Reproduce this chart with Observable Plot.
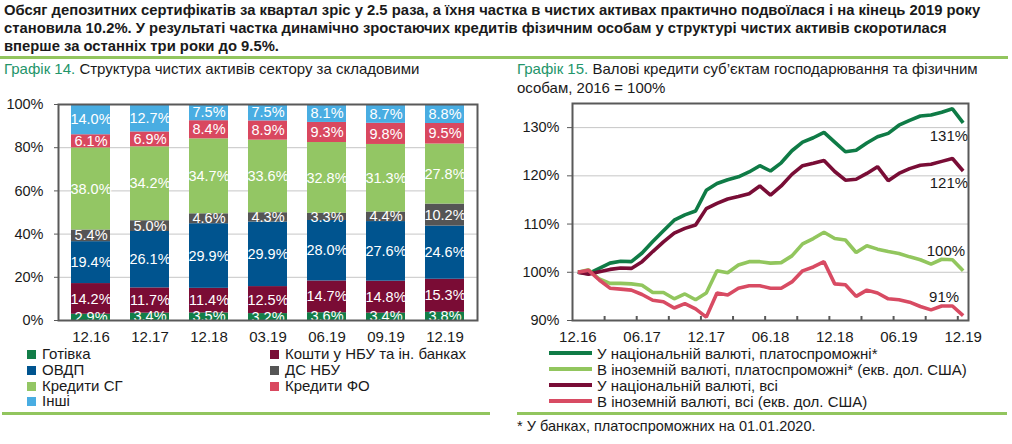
<!DOCTYPE html>
<html><head><meta charset="utf-8">
<script src="https://cdn.jsdelivr.net/npm/d3@7"></script>
<script src="https://cdn.jsdelivr.net/npm/@observablehq/plot@0.6"></script>
<style>
body{margin:0;width:1012px;height:444px;position:relative;font-family:"Liberation Sans",Arial,sans-serif;background:#fff;overflow:hidden;color:#1a1a1a}
.abs{position:absolute}
#header{left:4px;top:1px;font-weight:bold;font-size:14.8px;line-height:18px;width:1008px;white-space:nowrap}
.rule{position:absolute;height:3px;background:#92c55e}
.title{font-size:15px;line-height:19px;white-space:nowrap}
.title .g{color:#23956a}
.leg{font-size:15px;line-height:15.5px;white-space:nowrap}
.leg .it{position:absolute;white-space:nowrap}
.sq{display:inline-block;width:9px;height:9px;margin-right:6px;vertical-align:0px}
.ln{display:inline-block;width:43px;height:4px;margin-right:5px;vertical-align:4px}
#foot{left:517px;top:418px;font-size:14.5px;white-space:nowrap}
</style></head>
<body>
<div id="header" class="abs">Обсяг депозитних сертифікатів за квартал зріс у 2.5 раза, а їхня частка в чистих активах практично подвоїлася і на кінець 2019 року<br>становила 10.2%. У результаті частка динамічно зростаючих кредитів фізичним особам у структурі чистих активів скоротилася<br>вперше за останніх три роки до 9.5%.</div>
<div class="rule" style="left:0;top:56px;width:1008px"></div>
<div class="abs title" style="left:4px;top:59px"><span class="g">Графік 14.</span> Структура чистих активів сектору за складовими</div>
<div class="abs title" style="left:517px;top:59px"><span class="g">Графік 15.</span> Валові кредити суб’єктам господарювання та фізичним<br>особам, 2016 = 100%</div>
<div id="left" class="abs" style="left:0;top:95px"></div>
<div id="right" class="abs" style="left:500px;top:95px"></div>
<div id="legL" class="abs leg" style="left:0;top:346px;width:500px;height:64px"></div>
<div class="rule" style="left:2px;top:412px;width:488px"></div>
<div id="legR" class="abs leg" style="left:549px;top:346px;width:460px;height:64px"></div>
<div class="rule" style="left:517px;top:412px;width:490px"></div>
<div id="foot" class="abs">* У банках, платоспроможних на 01.01.2020.</div>
<script>
// ---- Chart 14 data ----
const barDates = ["12.16","12.17","12.18","03.19","06.19","09.19","12.19"];
const barSeries = ["Готівка","Кошти у НБУ та ін. банках","ОВДП","ДС НБУ","Кредити СГ","Кредити ФО","Інші"];
const barColors = ["#127d48","#7a0c35","#00548f","#555555","#93c664","#d9485f","#49ade2"];
const cash      = [2.9, 3.4, 3.5, 3.2, 3.6, 3.4, 3.8];
const nbuBanks  = [14.2, 11.7, 11.4, 12.5, 14.7, 14.8, 15.3];
const govBonds  = [19.4, 26.1, 29.9, 29.9, 28.0, 27.6, 24.6];
const nbuCerts  = [5.4, 5.0, 4.6, 4.3, 3.3, 4.4, 10.2];
const corpLoans = [38.0, 34.2, 34.7, 33.6, 32.8, 31.3, 27.8];
const retLoans  = [6.1, 6.9, 8.4, 8.9, 9.3, 9.8, 9.5];
const other     = [14.0, 12.7, 7.5, 7.5, 8.1, 8.7, 8.8];
const barTicks = [0, 20, 40, 60, 80, 100];

// ---- Chart 15 data ----
const lineTickLabels = ["12.16","06.17","12.17","06.18","12.18","06.19","12.19"];
const lineYTicks = [90, 100, 110, 120, 130];
const lineNames = ["У національній валюті, платоспроможні*","В іноземній валюті, платоспроможні* (екв. дол. США)","У національній валюті, всі","В іноземній валюті, всі (екв. дол. США)"];
const lineColors = ["#0f7b46","#92c65e","#790d36","#d84b63"];
const uahSolvent = [100,99.7,100.8,101.9,102.3,102.2,104.0,106.4,108.6,110.8,111.9,112.7,117.0,118.4,119.2,119.8,120.8,122.1,121.0,122.7,125.2,127.0,127.9,129.0,127.0,125.0,125.3,126.8,128.1,128.8,130.5,131.5,132.4,132.6,133.2,133.9,131.0];
const fxSolvent  = [100,100.5,98.6,97.7,97.7,97.6,97.3,95.8,95.8,94.5,95.5,94.3,95.7,100.3,99.9,101.5,102.2,102.2,101.9,102.0,103.4,105.9,107.0,108.3,107.0,106.7,104.1,105.5,104.8,104.3,103.9,103.2,102.6,101.7,102.7,102.6,100.3];
const uahAll     = [100,99.6,100.1,100.6,100.9,100.8,102.2,104.3,106.3,108.1,109.1,109.8,113.2,114.3,115.2,115.7,116.3,117.9,116.0,117.9,120.3,122.1,122.6,123.2,120.9,119.1,119.3,120.5,121.9,119.0,120.5,121.5,122.2,122.4,123.0,123.6,121.0];
const fxAll      = [100,100.4,98.4,96.7,96.5,96.3,95.4,94.2,93.9,92.6,93.5,92.4,90.7,95.7,95.3,96.7,97.2,97.2,96.7,96.7,98.0,100.3,101.1,102.2,97.6,97.4,95.0,96.3,95.7,94.5,94.3,93.8,92.9,92.2,93.0,93.0,91.0];

// ---- build chart 14 ----
const barValues = [cash, nbuBanks, govBonds, nbuCerts, corpLoans, retLoans, other];
const stacked = [];
barDates.forEach((d, j) => {
  let acc = 0;
  barSeries.forEach((s, k) => {
    const v = barValues[k][j];
    stacked.push({date: d, series: s, value: v, y1: acc, y2: acc + v, mid: acc + v / 2});
    acc += v;
  });
});
const fontStyle = {fontFamily: '"Liberation Sans", Arial, sans-serif', fontSize: "14.5px", color: "#1a1a1a", background: "transparent", overflow: "visible"};
const left = Plot.plot({
  width: 490, height: 260,
  marginTop: 9, marginBottom: 35, marginLeft: 58, marginRight: 13,
  style: fontStyle,
  x: {domain: barDates, paddingInner: 1/3, paddingOuter: 1/6, label: null},
  y: {domain: [0, 100], label: null},
  color: {domain: barSeries, range: barColors},
  marks: [
    Plot.ruleY(barTicks.filter(t => t > 0 && t < 100), {stroke: "#c6c6c6", strokeWidth: 1}),
    Plot.barY(stacked, {x: "date", y1: "y1", y2: "y2", fill: "series"}),
    Plot.text(stacked, {x: "date", y: "mid", text: d => d.value.toFixed(1) + "%", fill: "white", fontSize: 14.5}),
    Plot.frame({stroke: "#595959", strokeWidth: 2}),
    Plot.axisY({ticks: barTicks, tickFormat: d => d + "%", tickSize: 4, tickPadding: 11, label: null, stroke: "#595959"}),
    Plot.axisX({tickSize: 0, tickPadding: 11, label: null, fontSize: 15})
  ]
});
document.getElementById("left").appendChild(left);

// ---- build chart 15 ----
const lineValues = [uahSolvent, fxSolvent, uahAll, fxAll];
const lineData = [];
lineNames.forEach((n, k) => lineValues[k].forEach((v, i) => lineData.push({i, v, s: n})));
const lastIdx = uahSolvent.length - 1;
const labelOffsets = [[5, 13], [2, -20], [5, 12], [-4, -18]];
const labelMarks = lineNames.map((n, k) => Plot.text([{i: lastIdx, v: lineValues[k][lastIdx]}], {
  x: "i", y: "v", text: d => Math.round(d.v) + "%", textAnchor: "end",
  dx: labelOffsets[k][0], dy: labelOffsets[k][1], fontSize: 15, fill: "#1a1a1a"
}));
const right = Plot.plot({
  width: 512, height: 260,
  marginTop: 8, marginBottom: 35, marginLeft: 72, marginRight: 44,
  style: fontStyle,
  x: {domain: [-0.5, lastIdx + 0.5], label: null},
  y: {domain: [90, 135], label: null},
  color: {domain: lineNames, range: lineColors},
  marks: [
    Plot.ruleY(lineYTicks.filter(t => t > 90), {stroke: "#c6c6c6", strokeWidth: 1}),
    Plot.line(lineData, {x: "i", y: "v", z: "s", stroke: "s", strokeWidth: 3.6, strokeLinejoin: "miter", strokeLinecap: "butt"}),
    ...labelMarks,
    Plot.frame({stroke: "#595959", strokeWidth: 2}),
    Plot.axisY({ticks: lineYTicks, tickFormat: d => d + "%", tickSize: 5, tickPadding: 8, label: null, stroke: "#595959"}),
    Plot.axisX({ticks: d3.range(0, lastIdx + 1, 6), tickFormat: i => lineTickLabels[i / 6], tickSize: 0, tickPadding: 11, label: null, fontSize: 15}),
    Plot.axisX({ticks: d3.range(2.5, lastIdx, 3), tickFormat: () => "", tickSize: 4, dy: -4, label: null, stroke: "#595959", strokeWidth: 2})
  ]
});
document.getElementById("right").appendChild(right);

// ---- legends ----
const legL = document.getElementById("legL");
const legPos = [[27,0],[270,0],[27,1],[270,1],[27,2],[270,2],[27,3]];
barSeries.forEach((name, k) => {
  const el = document.createElement("div");
  el.className = "it";
  el.style.left = legPos[k][0] + "px";
  el.style.top = (legPos[k][1] * 15.8) + "px";
  el.innerHTML = `<span class="sq" style="background:${barColors[k]}"></span>${name}`;
  legL.appendChild(el);
});
const legR = document.getElementById("legR");
lineNames.forEach((n, k) => {
  const el = document.createElement("div");
  el.className = "it";
  el.style.left = "0px";
  el.style.top = (k * 16) + "px";
  el.innerHTML = `<span class="ln" style="background:${lineColors[k]}"></span>${n}`;
  legR.appendChild(el);
});
</script>
</body></html>
